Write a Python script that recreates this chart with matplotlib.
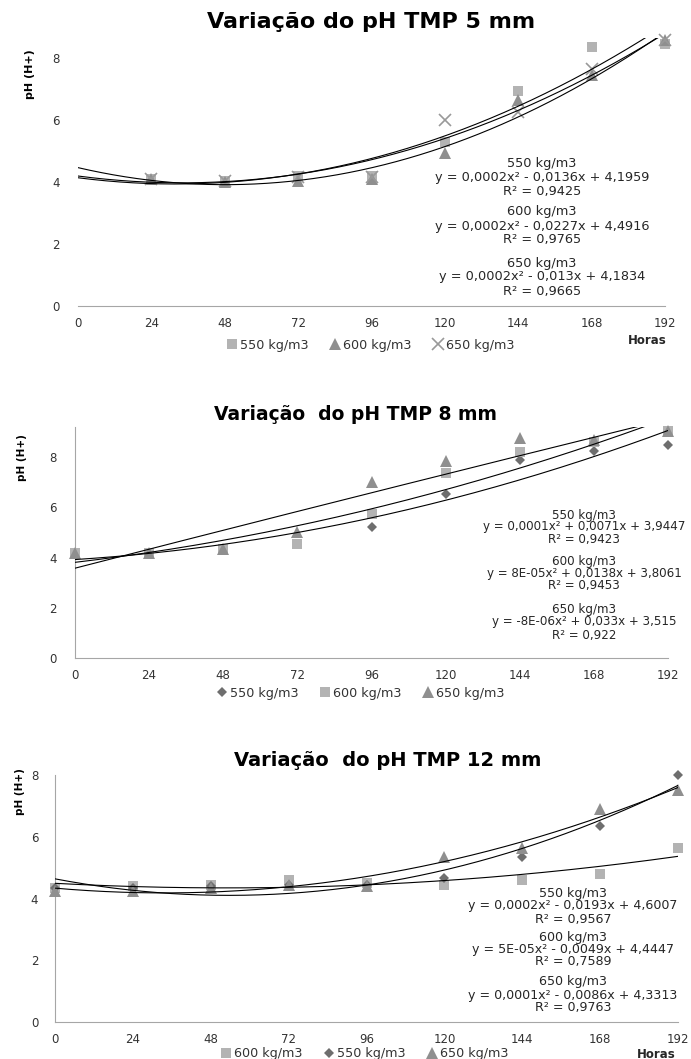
import numpy as np
import matplotlib
matplotlib.use("Agg")
import matplotlib.pyplot as plt

plt.rcParams['font.family'] = ['DejaVu Sans']

hours = [0, 24, 48, 72, 96, 120, 144, 168, 192]
hour_labels = [str(h) for h in hours]
density_labels = ["550 kg/m3", "600 kg/m3", "650 kg/m3"]

# TMP 5 mm (no reading at 0 h)
hours_5 = hours[1:]
ph5_550 = [4.1, 4.05, 4.2, 4.2, 5.3, 6.95, 8.35, 8.45]
ph5_600 = [4.1, 4.0, 4.05, 4.1, 4.95, 6.65, 7.45, 8.6]
ph5_650 = [4.1, 4.05, 4.15, 4.15, 6.0, 6.25, 7.65, 8.6]
eq5 = ["y = 0,0002x² - 0,0136x + 4,1959", "y = 0,0002x² - 0,0227x + 4,4916", "y = 0,0002x² - 0,013x + 4,1834"]
r2_5 = ["R² = 0,9425", "R² = 0,9765", "R² = 0,9665"]

# TMP 8 mm
ph8_550 = [4.2, 4.2, 4.3, 4.55, 5.2, 6.55, 7.9, 8.25, 8.5]
ph8_600 = [4.2, 4.2, 4.35, 4.55, 5.75, 7.35, 8.2, 8.6, 9.05]
ph8_650 = [4.2, 4.2, 4.35, 5.0, 7.0, 7.85, 8.75, 8.7, 9.05]
eq8 = ["y = 0,0001x² + 0,0071x + 3,9447", "y = 8E-05x² + 0,0138x + 3,8061", "y = -8E-06x² + 0,033x + 3,515"]
r2_8 = ["R² = 0,9423", "R² = 0,9453", "R² = 0,922"]

# TMP 12 mm
ph12_550 = [4.35, 4.35, 4.4, 4.45, 4.45, 4.65, 5.35, 6.35, 8.0]
ph12_600 = [4.35, 4.4, 4.45, 4.6, 4.5, 4.45, 4.6, 4.8, 5.65]
ph12_650 = [4.25, 4.25, 4.35, 4.45, 4.4, 5.35, 5.65, 6.9, 7.5]
eq12 = ["y = 0,0002x² - 0,0193x + 4,6007", "y = 5E-05x² - 0,0049x + 4,4447", "y = 0,0001x² - 0,0086x + 4,3313"]
r2_12 = ["R² = 0,9567", "R² = 0,7589", "R² = 0,9763"]

LIGHT = "#b3b3b3"
MID = "#8f8f8f"
DARK = "#6e6e6e"
SPINE = "#a6a6a6"

W, H = 691, 1059
fig = plt.figure(figsize=(W / 100, H / 100), dpi=100)


def px_axes(left, right, top, bottom):
    return fig.add_axes([left / W, 1 - bottom / H, (right - left) / W, (bottom - top) / H])


def fig_text(x, y, s, **kw):
    fig.text(x / W, 1 - y / H, s, **kw)


def style_axes(ax, ymax, left_spine, ypad):
    ax.set_xlim(0, 192)
    ax.set_ylim(0, ymax)
    ax.set_xticks(hours)
    ax.set_xticklabels(hour_labels)
    ax.set_yticks([0, 2, 4, 6, 8])
    for side in ["top", "right"]:
        ax.spines[side].set_visible(False)
    ax.spines["left"].set_visible(left_spine)
    ax.spines["left"].set_color(SPINE)
    ax.spines["bottom"].set_color(SPINE)
    ax.tick_params(axis="x", length=0, pad=8, labelsize=8.5, colors="#333333")
    ax.tick_params(axis="y", length=0, pad=ypad, labelsize=8.5, colors="#333333")


def trend(ax, x, y):
    coef = np.polyfit(x, y, 2)
    xs = np.linspace(0, 192, 300)
    ax.plot(xs, np.polyval(coef, xs), color="black", lw=0.8, zorder=4)


def series(ax, x, y, marker, color, ms, label):
    ax.plot(x, y, linestyle="none", marker=marker, color=color, ms=ms,
            mew=1.2 if marker == "x" else 0, label=label, zorder=3, clip_on=False)


def equations(xc, ys, eqs, r2s, size):
    for i in range(3):
        fig_text(xc, ys[i * 3], density_labels[i], ha="center", va="center", fontsize=size, color="#262626")
        fig_text(xc, ys[i * 3 + 1], eqs[i], ha="center", va="center", fontsize=size, color="#262626")
        fig_text(xc, ys[i * 3 + 2], r2s[i], ha="center", va="center", fontsize=size, color="#262626")


def legend(ax, cx, cy):
    ax.legend(loc="center", bbox_to_anchor=(cx / W, 1 - cy / H), bbox_transform=fig.transFigure,
              ncol=3, frameon=False, fontsize=9.2, handletextpad=0.1, columnspacing=1.6,
              handlelength=1.0, labelcolor="#333333")


# --- panel 1: 5 mm
ax1 = px_axes(78, 665, 38, 306)
series(ax1, hours_5, ph5_550, "s", LIGHT, 7, density_labels[0])
series(ax1, hours_5, ph5_600, "^", MID, 8, density_labels[1])
series(ax1, hours_5, ph5_650, "x", "#999999", 8, density_labels[2])
for y in (ph5_550, ph5_600, ph5_650):
    trend(ax1, hours_5, y)
style_axes(ax1, 8.65, False, 13)
fig_text(371, 22, "Variação do pH TMP 5 mm", ha="center", va="center", fontsize=16, fontweight="bold")
fig_text(30, 74, "pH (H+)", rotation=90, ha="center", va="center", fontsize=8, fontweight="bold")
fig_text(647, 340, "Horas", ha="center", va="center", fontsize=8.5, fontweight="bold", color="#262626")
equations(542, [163, 177, 191, 212, 226, 240, 263, 277, 291], eq5, r2_5, 9.3)
legend(ax1, 370, 345)

# --- panel 2: 8 mm
ax2 = px_axes(75, 668, 427, 658)
series(ax2, hours, ph8_550, "D", DARK, 5.5, density_labels[0])
series(ax2, hours, ph8_600, "s", LIGHT, 7, density_labels[1])
series(ax2, hours, ph8_650, "^", MID, 8, density_labels[2])
for y in (ph8_550, ph8_600, ph8_650):
    trend(ax2, hours, y)
style_axes(ax2, 9.2, True, 13)
fig_text(356, 415, "Variação  do pH TMP 8 mm", ha="center", va="center", fontsize=13.5, fontweight="bold")
fig_text(22, 458, "pH (H+)", rotation=90, ha="center", va="center", fontsize=7.5, fontweight="bold")
equations(584, [515, 527, 539, 561, 573, 586, 610, 622, 635], eq8, r2_8, 8.6)
legend(ax2, 360, 693)

# --- panel 3: 12 mm
ax3 = px_axes(55, 678, 775, 1022)
series(ax3, hours, ph12_600, "s", LIGHT, 7, density_labels[1])
series(ax3, hours, ph12_550, "D", DARK, 5.5, density_labels[0])
series(ax3, hours, ph12_650, "^", MID, 8, density_labels[2])
for y in (ph12_550, ph12_600, ph12_650):
    trend(ax3, hours, y)
style_axes(ax3, 8.0, True, 12)
fig_text(388, 760, "Variação  do pH TMP 12 mm", ha="center", va="center", fontsize=14, fontweight="bold")
fig_text(20, 792, "pH (H+)", rotation=90, ha="center", va="center", fontsize=7.5, fontweight="bold")
fig_text(656, 1054, "Horas", ha="center", va="center", fontsize=8.5, fontweight="bold", color="#262626")
equations(573, [893, 906, 919, 937, 950, 962, 982, 995, 1008], eq12, r2_12, 9.1)
legend(ax3, 364, 1054)

fig.savefig("out.png", dpi=100)
